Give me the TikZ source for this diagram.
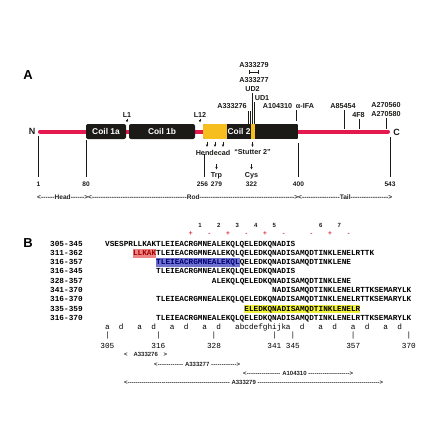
\documentclass[tikz,border=0pt]{standalone}
\usepackage{fontspec}
\setmainfont{Liberation Sans}
\setmonofont{Liberation Mono}
\usetikzlibrary{arrows.meta,calc,positioning}
\definecolor{ink}{HTML}{1B1A17}
\definecolor{rodred}{HTML}{E5194D}
\definecolor{gold}{HTML}{F6BE1E}
\definecolor{hlred}{HTML}{EE8585}
\definecolor{hlblue}{HTML}{6F72CF}
\definecolor{hlyellow}{HTML}{F3F23A}
\definecolor{chargered}{HTML}{D8283A}
\definecolor{muted}{HTML}{222222}
\tikzset{
  coilbox/.style={fill=ink,rounded corners=2pt,text=white,font=\fontsize{8.4}{9}\selectfont\bfseries,minimum height=15pt,inner sep=0pt},
  pin/.style={line width=0.8pt,draw=ink},
  tinyarrow/.style={-{Latex[length=2.4pt,width=2.4pt]},line width=0.5pt,draw=ink},
  rodline/.style={line width=4pt,draw=rodred,line cap=round},
  plainseg/.style={},
  redseg/.style={fill=hlred,text=red!65!black},
  blueseg/.style={fill=hlblue,text=blue!45!black},
  yellowseg/.style={fill=hlyellow}
}
\newcommand\cw{4.64}
\newcommand\dashrun[1]{\xleaders\hbox{-}\hskip 0pt plus #1fill}

\begin{document}
\begin{tikzpicture}[x=1pt,y=-1pt,
    panel/.style={font=\fontsize{13}{13}\selectfont\bfseries,inner sep=0pt},
    lab/.style={font=\fontsize{7.2}{8}\selectfont\bfseries,inner sep=0pt,text=ink},
    num/.style={font=\fontsize{6.6}{7}\selectfont\bfseries,inner sep=0pt,text=ink},
    span/.style={font=\fontsize{6}{7}\selectfont\bfseries,inner sep=0pt,anchor=west,text=muted},
    domainlab/.style={span,font=\fontsize{6.6}{7}\selectfont\bfseries},
    seq/.style={font=\fontsize{7.73}{8}\selectfont\ttfamily\bfseries,inner sep=0pt,anchor=west,text height=5.6pt,text depth=1.6pt,minimum height=8.4pt},
    hept/.style={font=\fontsize{7.73}{8}\selectfont\ttfamily,inner sep=0pt,text height=4.8pt,text depth=0.6pt},
    charge/.style={font=\fontsize{6.5}{7}\selectfont\bfseries,inner sep=0pt,text=chargered}
  ]
  \useasboundingbox (0,0) rectangle (440,441);

  % panel A
  \node[panel] (pA) at (28,75) {A};
  \node[lab,font=\fontsize{9}{9}\selectfont\bfseries] (nterm) at (32,131.5) {N};
  \node[lab,font=\fontsize{9}{9}\selectfont\bfseries] (cterm) at (396.5,132) {C};
  \coordinate (nend) at (40,131.5);
  \coordinate (cend) at (388,131.5);
  \draw[rodline] (nend) -- (cend);

  \node[coilbox,minimum width=40pt] (coil1a) at (106,131.5) {Coil 1a};
  \node[coilbox,minimum width=66pt] (coil1b) at (162,131.5) {Coil 1b};
  \begin{scope}
    \clip[rounded corners=2pt] (203,124) rectangle (298.5,139);
    \fill[ink] (203,124) rectangle (298.5,139);
    \fill[gold] (203,124) rectangle (227,139);
    \fill[gold] (251,124) rectangle (255,139);
  \end{scope}
  \node[lab,text=white,font=\fontsize{8.4}{9}\selectfont\bfseries] (coil2) at (239,131.5) {Coil 2};

  % linkers
  \node[lab] (l1) at (127,115) {L1};
  \node[lab] (l12) at (200,115) {L12};
  \foreach \x in {127,200} {
    \draw[tinyarrow] (\x,118.5) -- (\x,122.5);
  }

  % antibodies above the bar
  \node[lab] (a279) at (254,65) {A333279};
  \draw[{Bar[width=3.5pt]}-{Bar[width=3.5pt]},line width=0.8pt,draw=ink] (248.5,72) -- (258.5,72);
  \node[lab] (a277) at (254,80) {A333277};
  \node[lab] (ud2) at (252.5,89) {UD2};
  \node[lab] (ud1) at (262,98) {UD1};
  \node[lab] (a276) at (232,106) {A333276};
  \node[lab] (a310) at (277.5,106) {A104310};
  \node[lab] (ifa) at (305,106) {α-IFA};
  \node[lab] (a454) at (343,106) {A85454};
  \node[lab] (f48) at (358.5,115) {4F8};
  \node[lab] (a560) at (386,105) {A270560};
  \node[lab] (a580) at (386,114) {A270580};
  \foreach \x/\top/\bot in {248.3/111/123.5,250.2/111/123.5,252.2/93/123.5,254.6/102/123.5,296/110/121,344/110/129,359/119/129,386/118/129} {
    \draw[pin] (\x,\top) -- (\x,\bot);
  }

  % below the bar
  \foreach \x/\top in {38.5/136,86/140,204/154,298.5/143,390/137} {
    \draw[pin] (\x,\top) -- (\x,177);
  }
  \foreach \x/\n in {38.5/1,86/80,202.5/256,298.5/400,390/543} {
    \node[num] at (\x,184) {\n};
  }
  \foreach \x in {207,215,223,252.5} {
    \draw[tinyarrow] (\x,141.5) -- (\x,147);
  }
  \node[lab] (hend) at (213,152.5) {Hendecad};
  \node[lab] (stut) at (252.5,152.5) {“Stutter 2”};
  \foreach \x/\aa/\n in {216.5/Trp/279,251.5/Cys/322} {
    \draw[tinyarrow] (\x,164) -- (\x,169.5);
    \node[lab] at (\x,175.5) {\aa};
    \node[num] at (\x,184) {\n};
  }

  % domains
  \node[domainlab] (head) at (37,197) {\hbox to 51pt{<\dashrun{1}Head\dashrun{1}>}};
  \node[domainlab] (rod) at (88,197) {\hbox to 210pt{<\dashrun{1}Rod\dashrun{1}>}};
  \node[domainlab] (tail) at (298,197) {\hbox to 94pt{<\dashrun{1}Tail\dashrun{1}>}};

  % panel B
  \node[panel] (pB) at (28,243) {B};

  \foreach \c [count=\k] in {20,24,28,32,36,46,50} {
    \node[num,font=\fontsize{6}{6}\selectfont\bfseries] (pair\k) at ({105+(\c+0.5)*\cw},225) {\k};
  }
  \foreach \c/\s in {18/+,22/-,26/+,30/-,34/+,38/-,44/-,48/+,52/-} {
    \node[charge] at ({105+(\c+0.5)*\cw},234) {\s};
  }

  \foreach \y/\rng [count=\i] in {244.0/305-345,253.3/311-362,262.6/316-357,271.9/316-345,281.2/328-357,290.5/341-370,299.8/316-370,309.1/335-359,318.4/316-370} {
    \node[seq] (rng\i) at (50,\y) {\rng};
  }
  \foreach \y/\c/\txt/\hl [count=\i] in {
      244.0/0/VSESPRLLKAKTLEIEACRGMNEALEKQLQELEDKQNADIS/plainseg,
      253.3/6/LLKAK/redseg,
      253.3/11/TLEIEACRGMNEALEKQLQELEDKQNADISAMQDTINKLENELRTTK/plainseg,
      262.6/11/TLEIEACRGMNEALEKQL/blueseg,
      262.6/29/QELEDKQNADISAMQDTINKLENE/plainseg,
      271.9/11/TLEIEACRGMNEALEKQLQELEDKQNADIS/plainseg,
      281.2/23/ALEKQLQELEDKQNADISAMQDTINKLENE/plainseg,
      290.5/36/NADISAMQDTINKLENELRTTKSEMARYLK/plainseg,
      299.8/11/TLEIEACRGMNEALEKQLQELEDKQNADISAMQDTINKLENELRTTKSEMARYLK/plainseg,
      309.1/30/ELEDKQNADISAMQDTINKLENELR/yellowseg,
      318.4/11/TLEIEACRGMNEALEKQLQELEDKQNADISAMQDTINKLENELRTTKSEMARYLK/plainseg} {
    \node[seq,\hl] (seg\i) at ({105+\c*\cw},\y) {\txt};
  }

  % heptad positions
  \foreach \c/\l in {0/a,3/d,7/a,10/d,14/a,17/d,21/a,24/d,39/a,42/d,46/a,49/d,53/a,56/d,60/a,63/d} {
    \node[hept] (h\c) at ({105+(\c+0.5)*\cw},327) {\l};
  }
  \node[hept,anchor=west] (hk) at ({105+28*\cw},327) {abcdefghijk};
  \foreach \c/\n in {0/305,11/316,23/328,36/341,40/345,53/357,65/370} {
    \node[hept] (t\n) at ({105+(\c+0.5)*\cw},335) {|};
    \node[hept] (n\n) at ({105+(\c+0.5)*\cw},346) {\n};
  }

  % epitope spans
  \node[span] (s276) at (124,354) {\hbox to 43pt{<\hfill A333276\hfill>}};
  \node[span] (s277) at (154,364) {\hbox to 86pt{<\dashrun{1}\ A333277\ \dashrun{1}>}};
  \node[span] (s310) at (243,373) {\hbox to 110pt{<\dashrun{9}\ A104310\ \dashrun{11}>}};
  \node[span] (s279) at (124,382) {\hbox to 259pt{<\dashrun{107}\ A333279\ \dashrun{128}>}};
\end{tikzpicture}
\end{document}
